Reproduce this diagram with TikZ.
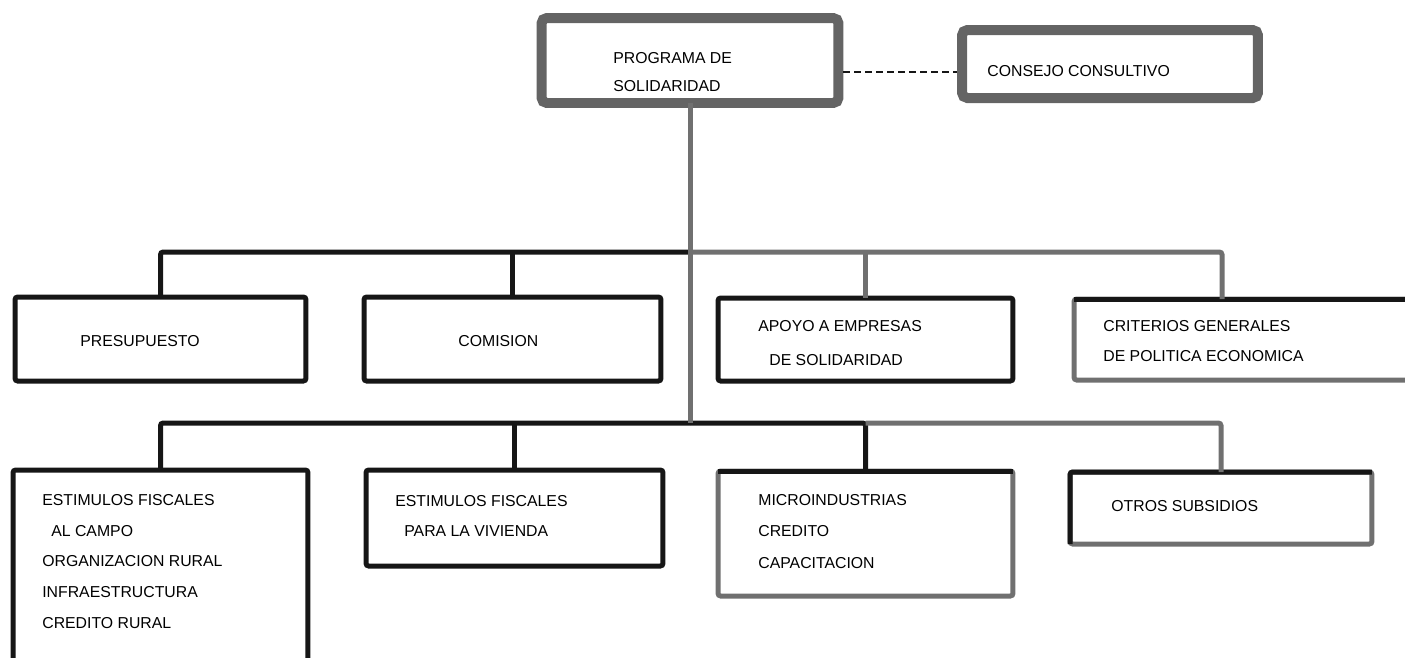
\documentclass[tikz,border=0pt]{standalone}
\usepackage{fontspec}
\setmainfont{Liberation Sans}
\usepackage{tikz}
\definecolor{ink}{HTML}{161616}
\definecolor{inkgray}{HTML}{707070}
\definecolor{headgray}{HTML}{646464}

\begin{document}
\begin{tikzpicture}[x=0.02cm,y=-0.02cm,
  headbox/.style={draw=headgray,line width=0.2cm,rounded corners=3pt,inner sep=0pt,outer sep=0pt},
  unitbox/.style={draw=ink,line width=0.1cm,rounded corners=1.5pt,inner sep=0pt,outer sep=0pt},
  grayunit/.style={unitbox,draw=inkgray},
  linkline/.style={draw=ink,line width=0.1cm,rounded corners=1.5pt},
  graylink/.style={linkline,draw=inkgray},
  txt/.style={anchor=base west,inner sep=0pt,align=left,font=\fontsize{9}{17}\selectfont}]
\clip (0,0) rectangle (1405,657);
\node[headbox,minimum width=5.94cm,minimum height=1.7cm] (prog) at (690,60.5) {};
\node[headbox,minimum width=5.92cm,minimum height=1.36cm] (consejo) at (1110,64) {};
\node[unitbox,minimum width=5.82cm,minimum height=1.68cm] (pres) at (160.5,339) {};
\node[unitbox,minimum width=5.94cm,minimum height=1.68cm] (comi) at (512.5,339) {};
\node[unitbox,minimum width=5.9cm,minimum height=1.66cm] (apoyo) at (865.5,339.5) {};
\node[grayunit,minimum width=7.32cm,minimum height=1.62cm] (crit) at (1257,339.5) {};
\node[unitbox,minimum width=5.9cm,minimum height=4.6cm] (campo) at (160.5,585) {};
\node[unitbox,minimum width=5.94cm,minimum height=1.92cm] (viv) at (514.5,518) {};
\node[grayunit,minimum width=5.9cm,minimum height=2.5cm] (micro) at (865.5,533.5) {};
\node[grayunit,minimum width=6.04cm,minimum height=1.44cm] (otros) at (1221,508) {};
\draw[linkline] (crit.north west) -- (crit.north east);
\draw[linkline] (micro.north west) -- (micro.north east);
\draw[linkline] (otros.south west) -- (otros.north west) -- (otros.north east);

\draw[ink,line width=0.6pt,dash pattern=on 0.14cm off 0.08cm] ([xshift=0.1cm,yshift=-0.23cm]prog.east) -- ([xshift=-0.1cm,yshift=-0.23cm]prog.east -| consejo.west);

\coordinate (j1) at (690,252);
\coordinate (j2) at (690,423);
\draw[linkline] (pres.north) |- (j1);
\draw[linkline] (comi.north) -- (comi.north |- j1);
\draw[graylink] (j1) -| ([xshift=2.96cm]crit.north west);
\draw[graylink] (apoyo.north) -- (apoyo.north |- j1);
\draw[linkline] (campo.north) |- (j2);
\draw[linkline] (viv.north) -- (viv.north |- j2);
\draw[linkline] (j2) -- (micro.north |- j2) -- (micro.north);
\draw[graylink] (micro.north |- j2) -| (otros.north);
\draw[graylink] (prog.south) -- (j2);

\node[txt] (progtxt) at (613,91) {PROGRAMA DE\\[-1.6pt]SOLIDARIDAD};
\node[txt] (consejotxt) at (987,76) {CONSEJO CONSULTIVO};
\node[txt] (prestxt) at (80,346) {PRESUPUESTO};
\node[txt] (comitxt) at (458,346) {COMISION};
\node[txt] (apoyotxt) at (758,365) {APOYO A EMPRESAS\\[1.8pt]\hspace*{0.22cm}DE SOLIDARIDAD};
\node[txt] (crittxt) at (1103,361) {CRITERIOS GENERALES\\DE POLITICA ECONOMICA};
\node[txt] (campotxt) at (42,628) {ESTIMULOS FISCALES\\[0.4pt]\hspace*{0.18cm}AL CAMPO\\[0.4pt]ORGANIZACION RURAL\\[0.4pt]INFRAESTRUCTURA\\[0.4pt]CREDITO RURAL};
\node[txt] (vivtxt) at (395,536) {ESTIMULOS FISCALES\\\hspace*{0.18cm}PARA LA VIVIENDA};
\node[txt] (microtxt) at (758,568) {MICROINDUSTRIAS\\[0.9pt]CREDITO\\[0.9pt]CAPACITACION};
\node[txt] (otrostxt) at (1111,511) {OTROS SUBSIDIOS};
\end{tikzpicture}
\end{document}
